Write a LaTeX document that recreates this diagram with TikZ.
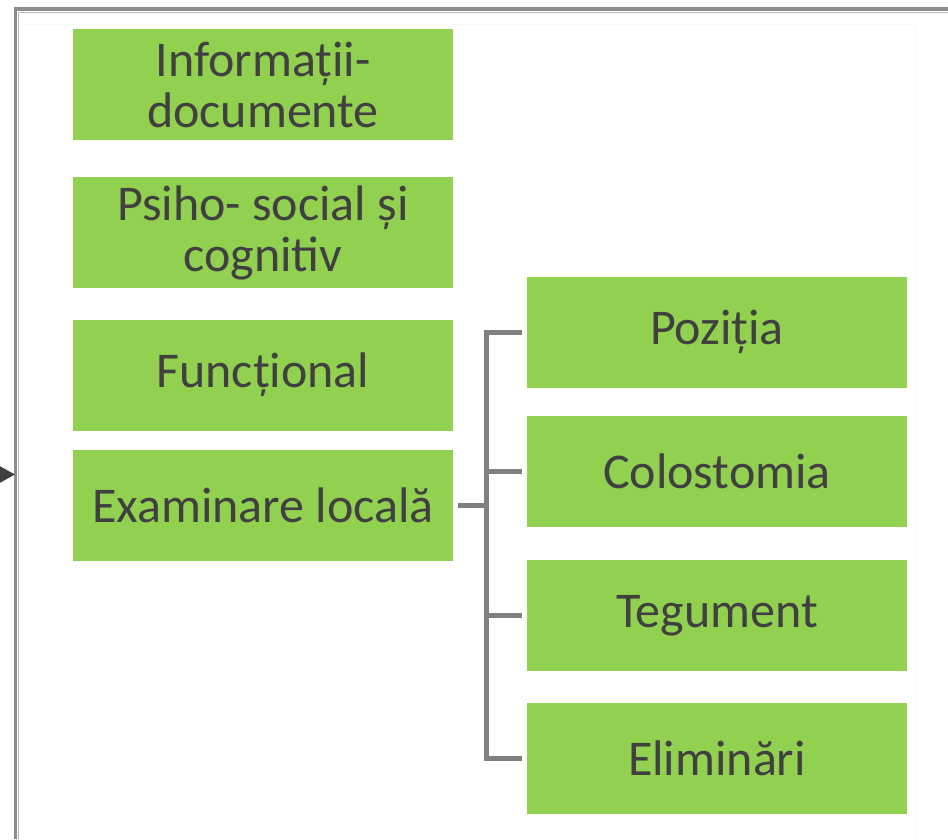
\documentclass[tikz,border=0pt]{standalone}
\usepackage{fontspec}
\setmainfont{Carlito}
\usetikzlibrary{arrows.meta}
\definecolor{boxgreen}{HTML}{92D050}
\definecolor{txtgray}{HTML}{404040}
\definecolor{linegray}{HTML}{7F7F7F}
\tikzset{
  item/.style={rectangle, fill=boxgreen, minimum width=380, minimum height=111,
    inner sep=0, text=txtgray, align=center,
    font=\fontsize{50}{51}\selectfont},
  conn/.style={linegray, line width=5},
}
\begin{document}
\begin{tikzpicture}[x=1pt,y=-1pt]
    \useasboundingbox (0,0) rectangle (948,839);

    % frames
    \draw[gray!6, line width=1] (20,24.5) -- (915,24.5) -- (915,839);
    \draw[gray!90, line width=3.5] (15.5,839) -- (15.5,9) -- (948,9);
    \draw[gray!55, line width=1] (18.8,839) -- (18.8,12.3) -- (948,12.3);

    \coordinate (in0) at (-2,474.5);
    \coordinate (in1) at (15,474.5);
    \draw[txtgray, line width=2.5, -{Triangle[length=16pt,width=17pt]}] (in0) -- (in1);

    % left column
    \node[item] (info)  at (263,84.5)  {Informații-\\documente};
    \node[item] (psiho) at (263,232.5) {Psiho- social și\\cognitiv};
    \node[item] (func)  at (263,375)   {Funcțional};
    \node[item] (exam)  at (263,505)   {Examinare locală};

    % right column
    \node[item] (poz)   at (717,332)   {Poziția};
    \node[item] (colo)  at (717,471.5) {Colostomia};
    \node[item] (teg)   at (717,615.5) {Tegument};
    \node[item] (elim)  at (717,758.5) {Eliminări};

    \coordinate (trunk) at (486,505);
    \draw[conn] ([xshift=5]exam.east) -- (trunk);
    \draw[conn] ([xshift=-5]poz.west) -- (poz.west -| trunk) -- (elim.west -| trunk) -- ([xshift=-5]elim.west);
    \foreach \n in {colo,teg}
        \draw[conn] (\n.west -| trunk) -- ([xshift=-5]\n.west);

\end{tikzpicture}
\end{document}
